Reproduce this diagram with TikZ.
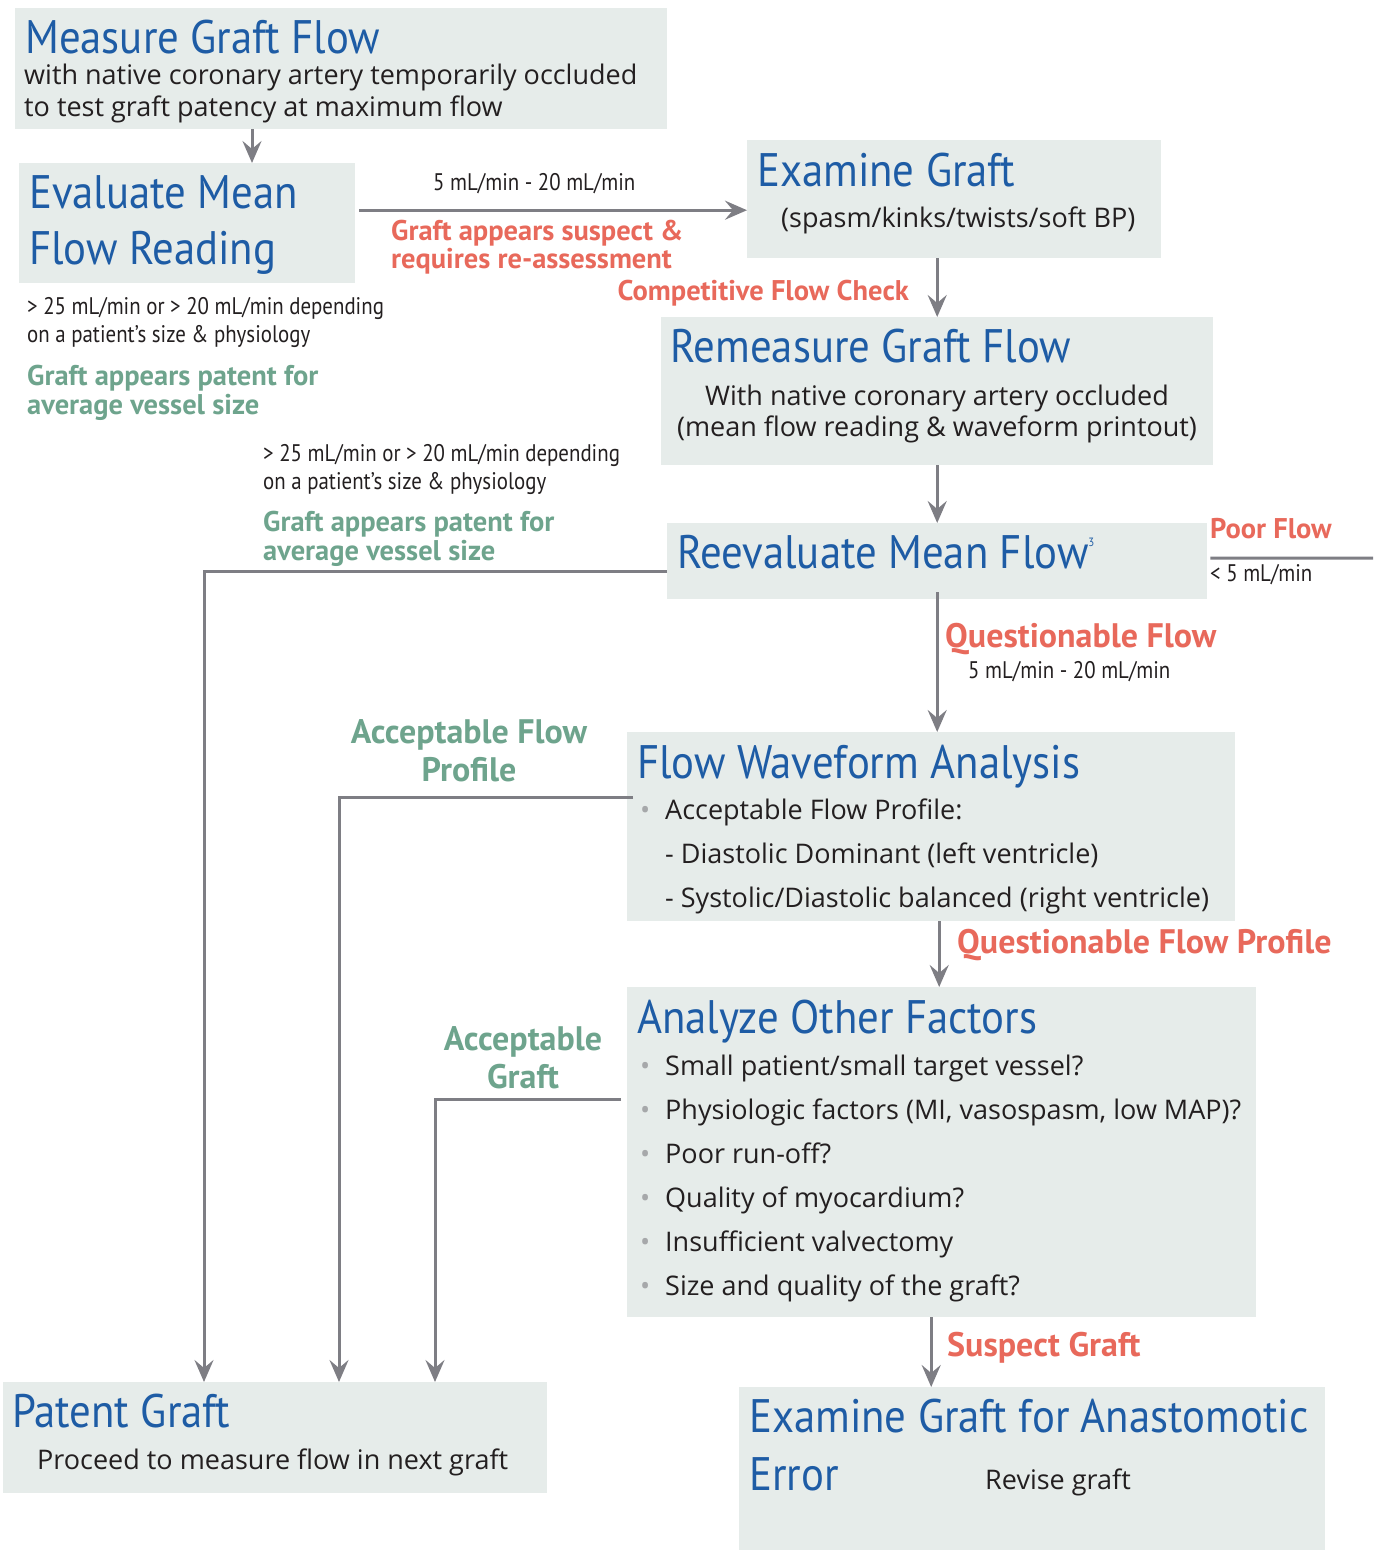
\documentclass[tikz,border=0pt]{standalone}
\usepackage{fontspec}
\setmainfont{Open Sans}
\newfontfamily\headfont[FakeStretch=0.91]{PT Sans}
\newfontfamily\notefont[FakeStretch=0.87]{PT Sans}
\newfontfamily\labfont{PT Sans}
\usepackage{tikz}
\usetikzlibrary{arrows.meta,positioning,calc}

\definecolor{boxgray}{HTML}{E6ECEA}
\definecolor{titleblue}{HTML}{1E5CA5}
\definecolor{labred}{HTML}{E8695B}
\definecolor{labgreen}{HTML}{6EA48D}
\definecolor{linegray}{HTML}{7E7E84}
\definecolor{inkblack}{HTML}{231F20}
\definecolor{dotgray}{HTML}{A6A8AA}

\tikzset{
  box/.style={fill=boxgray, inner sep=0pt, anchor=north west},
  title/.style={anchor=base west, inner sep=0pt, text=titleblue,
    font=\headfont\fontsize{47}{50}\selectfont},
  body/.style={anchor=base west, inner sep=0pt, text=inkblack,
    font=\fontsize{27}{30}\selectfont},
  note/.style={anchor=base west, inner sep=0pt, text=inkblack,
    font=\notefont\fontsize{24}{26}\selectfont},
  redlab/.style={anchor=base west, inner sep=0pt, text=labred,
    font=\labfont\bfseries\fontsize{28.5}{30}\selectfont},
  greenlab/.style={redlab, text=labgreen},
  big/.style={font=\labfont\bfseries\fontsize{34}{36}\selectfont},
  link/.style={draw=linegray, line width=3pt},
  arr/.style={link, -{Stealth[length=22pt,width=19pt,inset=8pt]}},
}
\newcommand{\dotitem}{\llap{\textcolor{dotgray}{\textbullet}\hspace{15pt}}}

\begin{document}
\begin{tikzpicture}[x=1pt,y=-1pt]
    \useasboundingbox (0,0) rectangle (1383,1550);

    % Boxes
    \node[box, minimum width=652, minimum height=121] (measure) at (15,8) {};
    \node[box, minimum width=336, minimum height=120] (evalbox) at (19,163) {};
    \node[box, minimum width=414, minimum height=118] (examine) at (747,140) {};
    \node[box, minimum width=552, minimum height=148] (remeasure) at (661,317) {};
    \node[box, minimum width=540, minimum height=76] (reeval) at (667,523) {};
    \node[box, minimum width=608, minimum height=189] (waveform) at (627,732) {};
    \node[box, minimum width=629, minimum height=330] (other) at (627,987) {};
    \node[box, minimum width=544, minimum height=111] (patent) at (3,1382) {};
    \node[box, minimum width=586, minimum height=163] (errbox) at (739,1387) {};

    % Box texts
    \node[title] (t-measure) at (25,53) {Measure Graft Flow};
    \node[body] (b-measure1) at (24,84) {with native coronary artery temporarily occluded};
    \node[body] (b-measure2) at (24,116) {to test graft patency at maximum flow};

    \node[title] (t-eval1) at (29,208) {Evaluate Mean};
    \node[title] (t-eval2) at (29,264) {Flow Reading};

    \node[title] (t-examine) at (757,186) {Examine Graft};
    \node[body] (b-examine) at (781,227) {(spasm/kinks/twists/soft BP)};

    \node[title] (t-remeasure) at (670,362) {Remeasure Graft Flow};
    \node[body, anchor=base] (b-remeasure1) at (937,405) {With native coronary artery occluded};
    \node[body, anchor=base] (b-remeasure2) at (937,436) {(mean flow reading \& waveform printout)};

    \node[title] (t-reeval) at (677,568) {Reevaluate Mean Flow{\fontsize{12}{12}\selectfont\raisebox{22pt}{3}}};

    \node[title] (t-waveform) at (637,778) {Flow Waveform Analysis};
    \node[body] (b-waveform1) at (665,819) {\dotitem Acceptable Flow Profile:};
    \node[body] (b-waveform2) at (665,863) {- Diastolic Dominant (left ventricle)};
    \node[body] (b-waveform3) at (665,907) {- Systolic/Diastolic balanced (right ventricle)};

    \node[title] (t-other) at (637,1033) {Analyze Other Factors};
    \foreach \txt [count=\k] in {{Small patient/small target vessel?},
        {Physiologic factors (MI, vasospasm, low MAP)?}, {Poor run-off?},
        {Quality of myocardium?}, {Insufficient valvectomy},
        {Size and quality of the graft?}} {
        \node[body] (b-other\k) at (665,1031+44*\k) {\dotitem \txt};
    }

    \node[title] (t-patent) at (12,1427) {Patent Graft};
    \node[body] (b-patent) at (37,1469) {Proceed to measure flow in next graft};

    \node[title] (t-err1) at (749,1432) {Examine Graft for Anastomotic};
    \node[title] (t-err2) at (749,1490) {Error};
    \node[body] (b-err) at (985,1489) {Revise graft};

    % Connectors
    \draw[arr] ([xshift=237pt]measure.south west) -- ([xshift=233pt]evalbox.north west);
    \draw[arr] ([xshift=4pt,yshift=13pt]evalbox.east) -- ([yshift=-11pt]examine.west);
    \draw[arr] (examine.south -| remeasure.north) -- (remeasure.north);
    \draw[arr] (remeasure.south) -- (reeval.north);
    \draw[arr] ([yshift=7pt]reeval.south) -- (reeval.south |- waveform.north);
    \draw[arr] ([xshift=8pt]waveform.south) -- ([xshift=8pt]waveform.south |- other.north);
    \draw[arr] ([xshift=-10.5pt]other.south) -- ([xshift=-10.5pt]other.south |- errbox.north);
    \coordinate (poorend) at (1373,558);
    \draw[link] ([xshift=3pt,yshift=3pt]reeval.east) -- (poorend);

    % Acceptable paths down to Patent Graft
    \draw[arr] ([yshift=-10pt]reeval.west) -| ([xshift=201pt]patent.north west);
    \draw[arr] ([xshift=6pt,yshift=29.5pt]waveform.west) -| ([xshift=336pt]patent.north west);
    \draw[arr] ([xshift=-6pt,yshift=53pt]other.west) -| ([xshift=432pt]patent.north west);

    % Connector labels
    \node[note] (l-range1) at (433,190) {5 mL/min - 20 mL/min};
    \node[redlab] (l-suspect1) at (391,240) {Graft appears suspect \&};
    \node[redlab] (l-suspect2) at (391,268) {requires re-assessment};
    \node[redlab, anchor=base east] (l-compete) at (909,300) {Competitive Flow Check};

    \node[note] (l-crit1a) at (27,314) {> 25 mL/min or > 20 mL/min depending};
    \node[note] (l-crit1b) at (27,342) {on a patient’s size \& physiology};
    \node[greenlab] (l-patent1a) at (27,385) {Graft appears patent for};
    \node[greenlab] (l-patent1b) at (27,414) {average vessel size};

    \node[note] (l-crit2a) at (263,461) {> 25 mL/min or > 20 mL/min depending};
    \node[note] (l-crit2b) at (263,489) {on a patient’s size \& physiology};
    \node[greenlab] (l-patent2a) at (263,531) {Graft appears patent for};
    \node[greenlab] (l-patent2b) at (263,560) {average vessel size};

    \node[redlab] (l-poor) at (1210,538) {Poor Flow};
    \node[note] (l-poorval) at (1210,581) {< 5 mL/min};

    \node[redlab, big] (l-quest) at (945,647) {Questionable Flow};
    \node[note] (l-range2) at (968,678) {5 mL/min - 20 mL/min};

    \node[greenlab, big, anchor=base] (l-accflow1) at (469,743) {Acceptable Flow};
    \node[greenlab, big, anchor=base] (l-accflow2) at (469,781) {Profile};

    \node[redlab, big] (l-questprof) at (957,953) {Questionable Flow Profile};

    \node[greenlab, big, anchor=base] (l-accgraft1) at (523,1050) {Acceptable};
    \node[greenlab, big, anchor=base] (l-accgraft2) at (523,1088) {Graft};

    \node[redlab, big] (l-suspgraft) at (947,1356) {Suspect Graft};
\end{tikzpicture}
\end{document}
